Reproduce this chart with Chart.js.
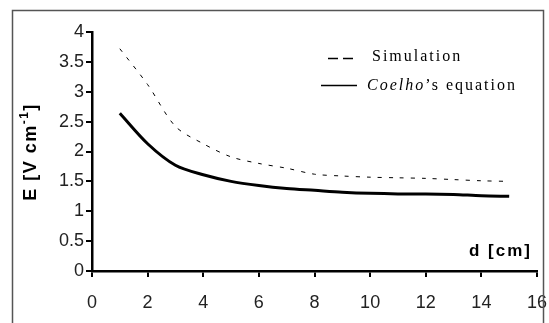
<!DOCTYPE html>
<html>
<head>
<meta charset="utf-8">
<script src="https://cdn.jsdelivr.net/npm/chart.js@4"></script>
<style>
  html, body { margin: 0; padding: 0; background: #fff; }
  #wrap { width: 549px; height: 323px; }
</style>
</head>
<body>
<div id="wrap"><canvas id="myChart" width="549" height="323"></canvas></div>
<script>
// distances d [cm]
var distances = [1, 2, 3, 4, 5, 6, 7, 8, 9, 10, 11, 12, 13, 14, 15];
// E [V/cm]
var simulation = [3.72, 3.12, 2.42, 2.13, 1.91, 1.80, 1.72, 1.62, 1.59, 1.57, 1.56, 1.55, 1.53, 1.51, 1.50];
var coelho = [2.64, 2.13, 1.77, 1.61, 1.50, 1.43, 1.38, 1.35, 1.32, 1.30, 1.29, 1.29, 1.28, 1.26, 1.25];
var xTicks = [0, 2, 4, 6, 8, 10, 12, 14, 16];
var yTicks = [0, 0.5, 1, 1.5, 2, 2.5, 3, 3.5, 4];

function toPoints(ys) {
    var pts = [];
    for (let i = 0; i < distances.length; i++) {
        pts.push({ x: distances[i], y: ys[i] });
    }
    return pts;
}

// frame, axis titles and the hand-placed legend
var decorations = {
    id: 'decorations',
    afterDraw: function(chart) {
        var ctx = chart.ctx;
        ctx.save();
        // outer frame
        ctx.strokeStyle = '#555';
        ctx.lineWidth = 1.5;
        ctx.strokeRect(12.5, 10.5, 531, 320);

        ctx.fillStyle = '#000';
        // x title
        ctx.font = 'bold 17px Arial, "Liberation Sans", sans-serif';
        ctx.letterSpacing = '2px';
        ctx.textAlign = 'right';
        ctx.textBaseline = 'alphabetic';
        ctx.fillText('d [cm]', 532, 256);

        // y title, rotated
        ctx.translate(36, 152);
        ctx.rotate(-Math.PI / 2);
        ctx.letterSpacing = '1.5px';
        ctx.textAlign = 'left';
        ctx.font = 'bold 18px Arial, "Liberation Sans", sans-serif';
        var main = 'E [V cm';
        var w = ctx.measureText(main).width;
        var sup = '-1';
        ctx.font = 'bold 12px Arial, "Liberation Sans", sans-serif';
        var ws = ctx.measureText(sup).width;
        ctx.font = 'bold 18px Arial, "Liberation Sans", sans-serif';
        var wb = ctx.measureText(']').width;
        var start = -(w + ws + wb) / 2;
        ctx.fillText(main, start, 0);
        ctx.font = 'bold 12px Arial, "Liberation Sans", sans-serif';
        ctx.fillText(sup, start + w, -8);
        ctx.font = 'bold 18px Arial, "Liberation Sans", sans-serif';
        ctx.fillText(']', start + w + ws, 0);
        ctx.restore();

        // legend
        ctx.save();
        ctx.strokeStyle = '#000';
        ctx.lineWidth = 1.5;
        ctx.setLineDash([10, 5]);
        ctx.beginPath();
        ctx.moveTo(328, 58.5);
        ctx.lineTo(358, 58.5);
        ctx.stroke();
        ctx.setLineDash([]);
        ctx.beginPath();
        ctx.moveTo(321, 85.5);
        ctx.lineTo(357, 85.5);
        ctx.stroke();

        ctx.fillStyle = '#000';
        ctx.textAlign = 'left';
        ctx.textBaseline = 'alphabetic';
        ctx.letterSpacing = '2px';
        ctx.font = '16px "Liberation Serif", "Times New Roman", serif';
        ctx.fillText('Simulation', 372, 61);
        ctx.font = 'italic 16px "Liberation Serif", "Times New Roman", serif';
        ctx.fillText('Coelho', 367, 90);
        var cw = ctx.measureText('Coelho').width;
        ctx.font = '16px "Liberation Serif", "Times New Roman", serif';
        ctx.fillText('\u2019s equation', 367 + cw, 90);
        ctx.restore();
    }
};

var ctx = document.getElementById('myChart').getContext('2d');
var myChart = new Chart(ctx, {
    type: 'line',
    data: {
        datasets: [{
            label: 'Simulation',
            data: toPoints(simulation),
            borderColor: '#000',
            borderWidth: 1,
            borderDash: [4, 7],
            pointRadius: 0,
            tension: 0.3,
            fill: false
        }, {
            label: "Coelho's equation",
            data: toPoints(coelho),
            borderColor: '#000',
            borderWidth: 3,
            pointRadius: 0,
            tension: 0.3,
            fill: false
        }]
    },
    options: {
        responsive: false,
        animation: false,
        events: [],
        layout: { padding: { left: 0, right: 3, top: 32, bottom: 0 } },
        plugins: {
            legend: { display: false },
            tooltip: { enabled: false },
            title: { display: false }
        },
        scales: {
            x: {
                type: 'linear',
                min: 0,
                max: 16,
                afterBuildTicks: function(scale) {
                    scale.ticks = xTicks.map(function(v) { return { value: v }; });
                },
                afterFit: function(scale) {
                    scale.height = 52;
                    scale.paddingLeft = 0;
                    scale.paddingRight = 12;
                },
                grid: {
                    drawOnChartArea: false,
                    drawTicks: true,
                    tickLength: 6,
                    lineWidth: 2,
                    color: '#000'
                },
                border: { display: true, color: '#000', width: 2.5 },
                ticks: {
                    color: '#222',
                    padding: 15,
                    callback: function(v) { return String(v); },
                    font: { family: 'Arial, "Liberation Sans", sans-serif', size: 18 }
                }
            },
            y: {
                type: 'linear',
                min: 0,
                max: 4,
                afterBuildTicks: function(scale) {
                    scale.ticks = yTicks.map(function(v) { return { value: v }; });
                },
                afterFit: function(scale) { scale.width = 92; },
                grid: {
                    drawOnChartArea: false,
                    drawTicks: true,
                    tickLength: 6,
                    lineWidth: 2,
                    color: '#000'
                },
                border: { display: true, color: '#000', width: 2.5 },
                ticks: {
                    color: '#222',
                    padding: 2,
                    callback: function(v) { return String(v); },
                    font: { family: 'Arial, "Liberation Sans", sans-serif', size: 18 }
                }
            }
        }
    },
    plugins: [decorations]
});
</script>
</body>
</html>
